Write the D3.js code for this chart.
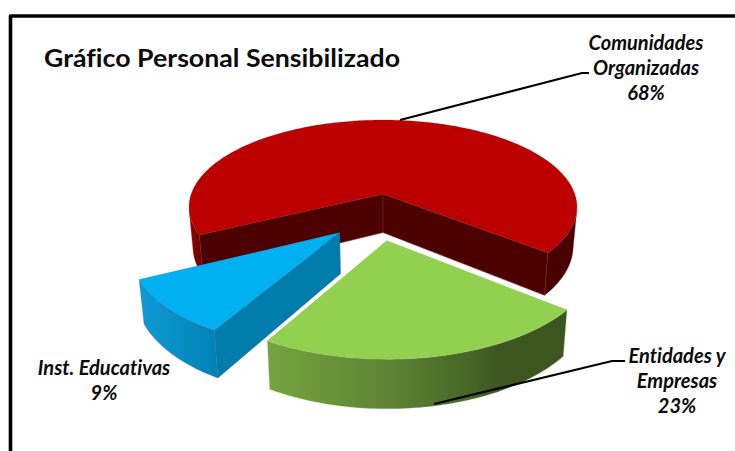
<!DOCTYPE html>
<html><head><meta charset="utf-8">
<script src="https://cdn.jsdelivr.net/npm/d3@7"></script>
<style>html,body{margin:0;padding:0;background:#fff}svg{display:block}text{font-family:Lato,"Open Sans",sans-serif;font-variant-ligatures:none}</style>
</head><body><svg id="c" width="735" height="451"></svg>
<script>
// DATA
const categories = ["Comunidades Organizadas", "Entidades y Empresas", "Inst. Educativas"];
const values = [68.2, 22.5, 9.3];
const labelLines = [["Comunidades", "Organizadas", "68%"], ["Entidades y", "Empresas", "23%"], ["Inst. Educativas", "9%"]];
const titleText = "Gráfico Personal Sensibilizado";

// STYLE
const topColors = ["#BC0000", "#92D050", "#00B0F0"];
const wallStops = [
  [[0, "#A30000"], [0.2, "#7a0000"], [0.55, "#520000"], [1, "#4A0000"]],
  [[0, "#76A340"], [0.4, "#5F8434"], [0.68, "#456526"], [0.78, "#3D5520"], [1, "#3D5520"]],
  [[0, "#0F9AD6"], [1, "#0083B4"]]
];
const cutColors = ["#4C0000", "#5F8434", "#007DAB"];
const edgeColors = ["#7A2A2A", "#A6CC7A", "#3A6E9E"];

// PROJECTION: a tilted disc seen in perspective, with a vertical extrusion
const cx = 383, cy = 194, a = 191.8, b = 85.06, k = -0.1494, depth = 38.5, taper = 0.02;
const explode = [[0, 0], [0.018, 0.505], [-0.212, 0.425]];   // slice offset on the disc
const rotation = 243.3 * Math.PI / 180;

function project(u, v, h) {
  const w = 1 + k * v;
  return [cx + a * u / w * (1 - taper * h), cy + b * v / w + depth * h / w];
}
const onDisc = (ang, off) => [Math.sin(ang) + off[0], -Math.cos(ang) + off[1]];
const line = d3.line();
const closed = pts => line(pts) + "Z";
const area2 = pts => d3.polygonArea(pts);

const svg = d3.select("#c");
const defs = svg.append("defs");

// frame
svg.append("path").attr("d", "M10.5,451V16H735").attr("fill", "none")
  .attr("stroke", "#000").attr("stroke-width", 3.6).attr("stroke-linejoin", "round");

const arcs = d3.pie().sort(null).startAngle(rotation).endAngle(rotation + 2 * Math.PI)(values);
const STEP = Math.PI / 180;

arcs.forEach((d, i) => {
  const off = explode[i], g = svg.append("g");
  const n = Math.ceil((d.endAngle - d.startAngle) / STEP);
  const angs = d3.range(n + 1).map(j => d.startAngle + (d.endAngle - d.startAngle) * j / n);
  const topArc = angs.map(t => { const p = onDisc(t, off); return project(p[0], p[1], 0); });
  const botArc = angs.map(t => { const p = onDisc(t, off); return project(p[0], p[1], 1); });
  const apexT = project(off[0], off[1], 0), apexB = project(off[0], off[1], 1);

  // flat cut faces, only when they face the viewer
  [[apexT, topArc[0], botArc[0], apexB], [topArc[n], apexT, apexB, botArc[n]]].forEach(q => {
    if (area2(q) > 0) g.append("path").attr("d", closed(q)).attr("fill", cutColors[i])
      .attr("stroke", edgeColors[i]).attr("stroke-width", 0.6);
  });

  // outer wall: contiguous runs of segments that face the viewer
  const gid = "wall" + i;
  const xs = topArc.map(p => p[0]);
  const visible = d3.range(n).filter(j => area2([topArc[j], botArc[j], botArc[j + 1], topArc[j + 1]]) < 0);
  const runs = [];
  visible.forEach(j => {
    const last = runs[runs.length - 1];
    if (last && last[1] === j) last[1] = j + 1; else runs.push([j, j + 1]);
  });
  const x0 = d3.min(xs), x1 = d3.max(xs);
  const grad = defs.append("linearGradient").attr("id", gid).attr("gradientUnits", "userSpaceOnUse")
    .attr("x1", x0).attr("x2", i === 0 ? x0 + 40 : x1).attr("y1", 0).attr("y2", 0);
  wallStops[i].forEach(s => grad.append("stop").attr("offset", s[0]).attr("stop-color", s[1]));
  runs.forEach(r => {
    const pts = topArc.slice(r[0], r[1] + 1).concat(botArc.slice(r[0], r[1] + 1).reverse());
    g.append("path").attr("d", closed(pts)).attr("fill", "url(#" + gid + ")")
      .attr("stroke", edgeColors[i]).attr("stroke-width", 0.5).attr("stroke-opacity", 0.6);
  });

  // top face
  g.append("path").attr("d", closed([apexT].concat(topArc))).attr("fill", topColors[i])
    .attr("stroke", edgeColors[i]).attr("stroke-width", 0.4).attr("stroke-opacity", 0.5);
});

// leader lines
const leader = d3.line();
[[[400, 120], [582, 73], [589, 73]], [[434, 404], [612, 361], [625, 361]]].forEach(p =>
  svg.append("path").attr("d", leader(p)).attr("fill", "none").attr("stroke", "#000").attr("stroke-width", 2));

// title
svg.append("text").attr("x", 44).attr("y", 67).attr("font-size", 25).attr("font-weight", 700)
  .attr("fill", "#0b0b0b").attr("textLength", 356).attr("lengthAdjust", "spacingAndGlyphs").text(titleText);

// labels
const labelAnchors = [[646, 50], [677, 363], [104, 375]];
labelLines.forEach((lines, i) => {
  lines.forEach((t, j) => svg.append("text").attr("x", labelAnchors[i][0]).attr("y", labelAnchors[i][1] + j * 24.8)
    .attr("text-anchor", "middle").attr("font-size", 20).attr("font-weight", 700).attr("font-style", "italic")
    .attr("fill", "#0b0b0b").text(t));
});
</script></body></html>
